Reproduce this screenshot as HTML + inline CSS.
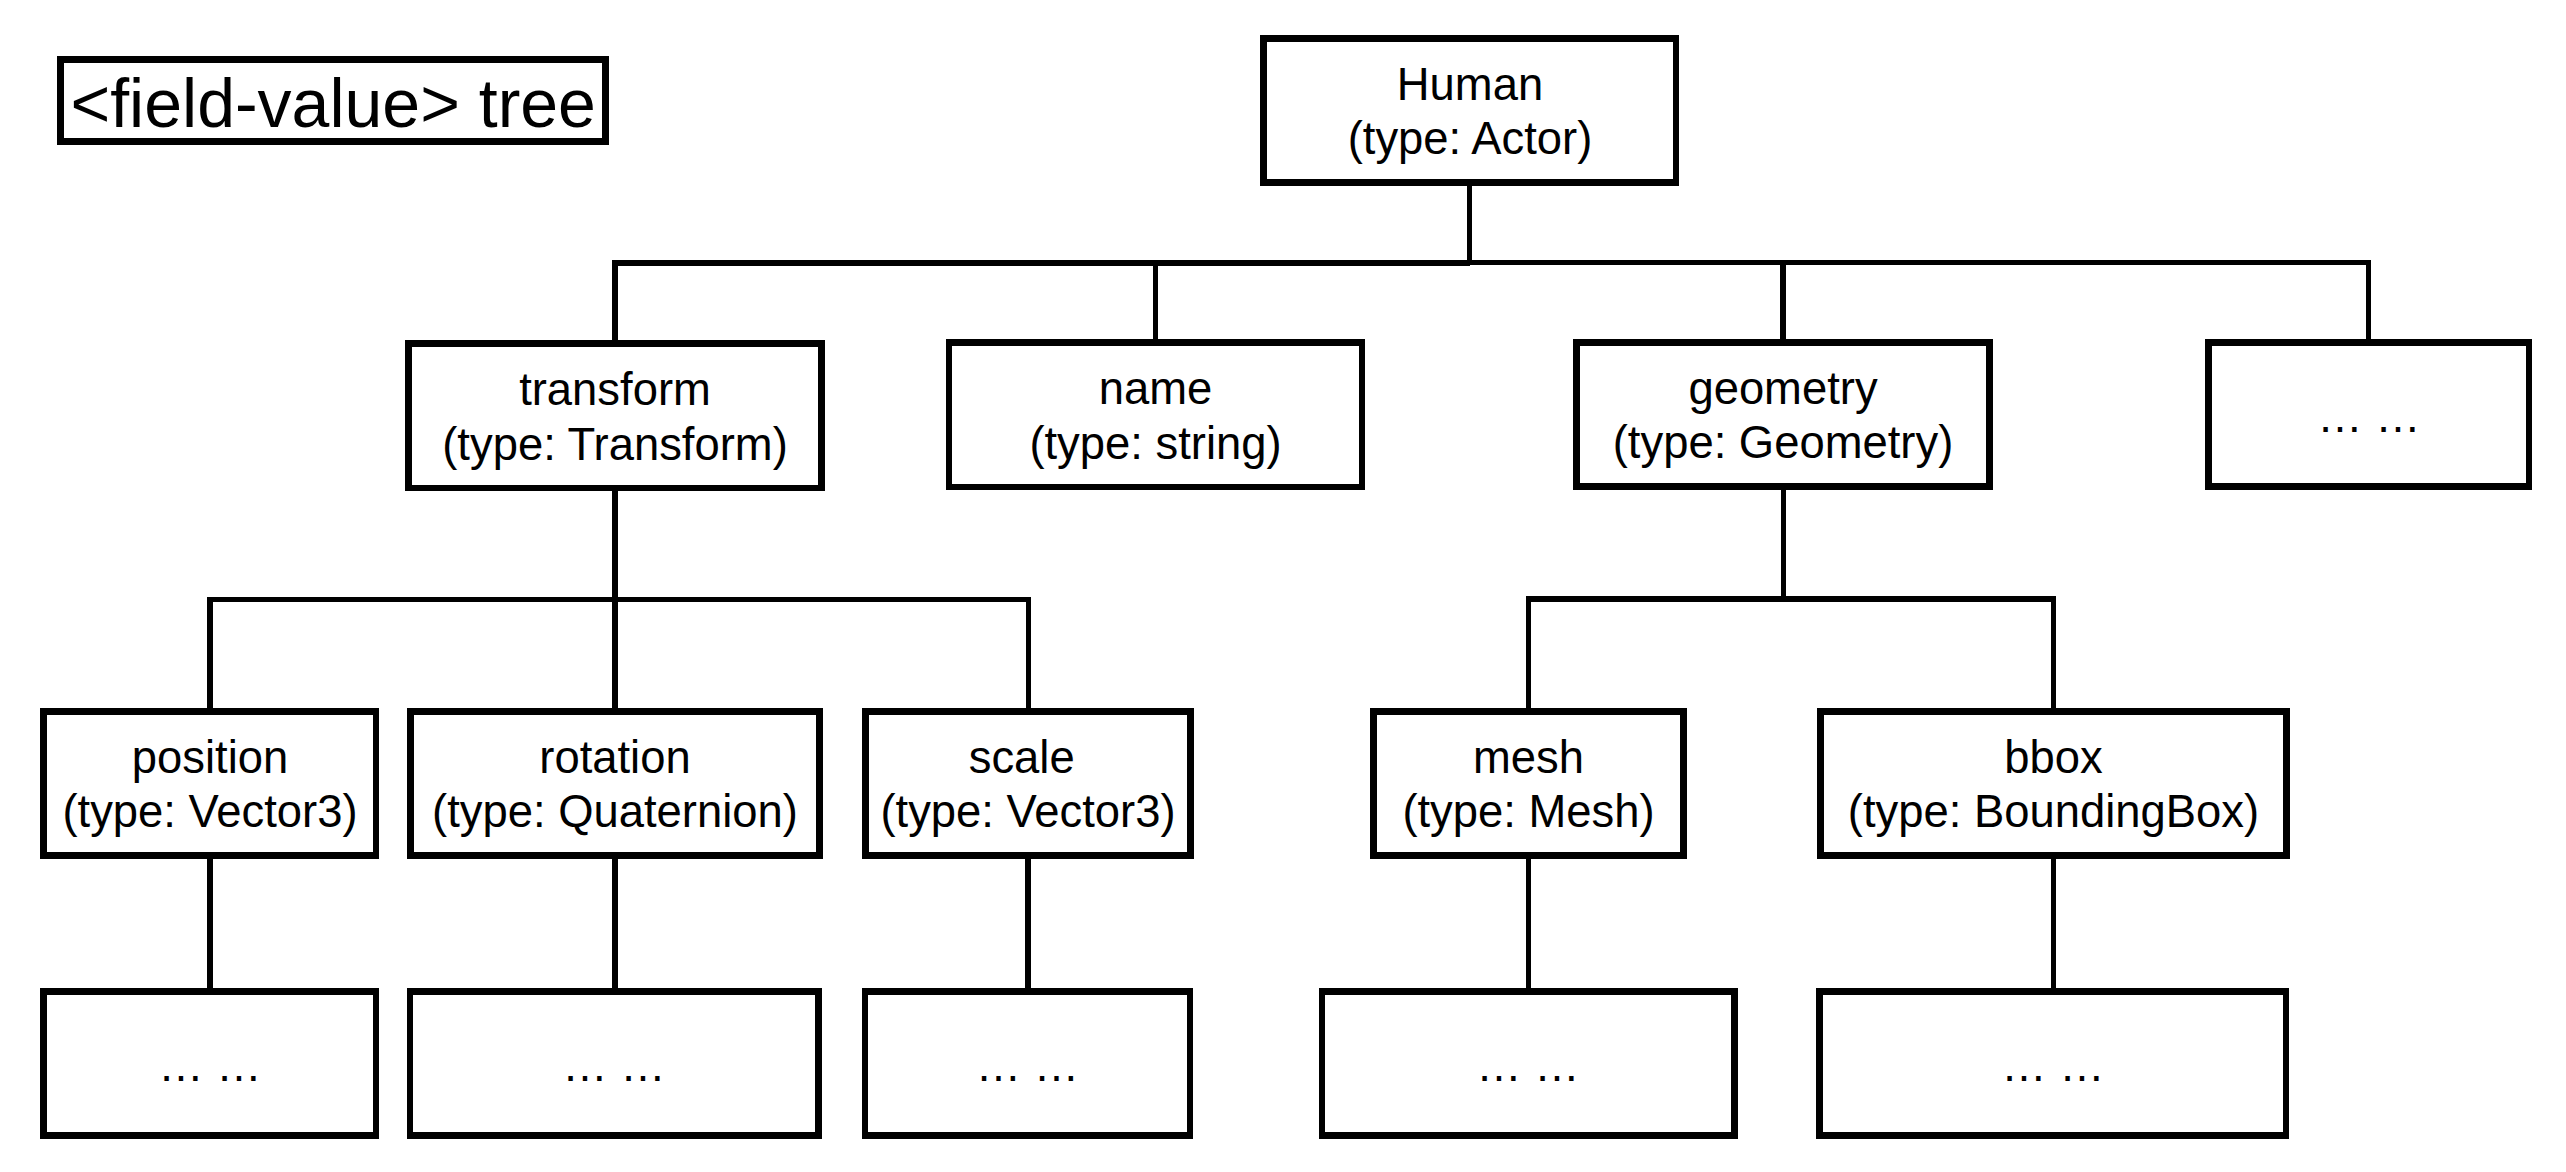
<!DOCTYPE html>
<html><head><meta charset="utf-8"><style>
html,body{margin:0;padding:0;background:#fff;}
body{width:2566px;height:1172px;position:relative;overflow:hidden;font-family:"Liberation Sans",sans-serif;color:#000;}
.b{position:absolute;box-sizing:border-box;border:7px solid #000;background:#fff;display:flex;align-items:center;justify-content:center;text-align:center;font-size:45.40px;line-height:54.50px;white-space:nowrap;}
.b span{position:relative;top:1.50px;}
.b span.d{top:3.00px;}
.l{position:absolute;background:#000;}
.t{position:absolute;box-sizing:border-box;border:7px solid #000;font-size:68px;line-height:75px;white-space:nowrap;}
</style></head><body>

<div class="l" style="left:1467px;top:180px;width:5px;height:82px"></div>
<div class="l" style="left:612px;top:260px;width:858px;height:6px"></div>
<div class="l" style="left:1469px;top:260px;width:902px;height:5px"></div>
<div class="l" style="left:612px;top:262px;width:6px;height:80px"></div>
<div class="l" style="left:1153px;top:262px;width:5px;height:79px"></div>
<div class="l" style="left:1780px;top:262px;width:6px;height:79px"></div>
<div class="l" style="left:2366px;top:262px;width:5px;height:79px"></div>
<div class="l" style="left:612px;top:488px;width:6px;height:112px"></div>
<div class="l" style="left:207px;top:597px;width:824px;height:5px"></div>
<div class="l" style="left:207px;top:599px;width:6px;height:111px"></div>
<div class="l" style="left:612px;top:599px;width:6px;height:111px"></div>
<div class="l" style="left:1026px;top:599px;width:5px;height:111px"></div>
<div class="l" style="left:1781px;top:487px;width:5px;height:112px"></div>
<div class="l" style="left:1526px;top:596px;width:530px;height:6px"></div>
<div class="l" style="left:1526px;top:599px;width:5px;height:111px"></div>
<div class="l" style="left:2051px;top:599px;width:5px;height:111px"></div>
<div class="l" style="left:207px;top:856px;width:6px;height:134px"></div>
<div class="l" style="left:612px;top:856px;width:6px;height:134px"></div>
<div class="l" style="left:1025px;top:856px;width:6px;height:134px"></div>
<div class="l" style="left:1526px;top:856px;width:5px;height:134px"></div>
<div class="l" style="left:2051px;top:856px;width:5px;height:134px"></div>
<div class="b" style="left:1260px;top:35px;width:419px;height:151px;border-width:7px 6px 7px 7px"><span>Human<br>(type: Actor)</span></div>
<div class="b" style="left:405px;top:340px;width:420px;height:151px;border-width:7px 7px 6px 7px"><span>transform<br>(type: Transform)</span></div>
<div class="b" style="left:946px;top:339px;width:419px;height:151px;border-width:7px 6px 6px 6px"><span>name<br>(type: string)</span></div>
<div class="b" style="left:1573px;top:339px;width:420px;height:151px;border-width:7px 7px 7px 7px"><span>geometry<br>(type: Geometry)</span></div>
<div class="b" style="left:2205px;top:339px;width:327px;height:151px;border-width:7px 6px 7px 7px"><span class="d">… …</span></div>
<div class="b" style="left:40px;top:708px;width:339px;height:151px;border-width:7px 6px 7px 7px"><span>position<br>(type: Vector3)</span></div>
<div class="b" style="left:407px;top:708px;width:416px;height:151px;border-width:7px 7px 7px 7px"><span>rotation<br>(type: Quaternion)</span></div>
<div class="b" style="left:862px;top:708px;width:332px;height:151px;border-width:7px 7px 7px 7px"><span>scale&nbsp;<br>(type: Vector3)</span></div>
<div class="b" style="left:1370px;top:708px;width:317px;height:151px;border-width:7px 7px 7px 7px"><span>mesh<br>(type: Mesh)</span></div>
<div class="b" style="left:1817px;top:708px;width:473px;height:151px;border-width:7px 7px 7px 7px"><span>bbox<br>(type: BoundingBox)</span></div>
<div class="b" style="left:40px;top:988px;width:339px;height:151px;border-width:7px 6px 7px 7px"><span class="d">… …</span></div>
<div class="b" style="left:407px;top:988px;width:415px;height:151px;border-width:7px 7px 7px 6px"><span class="d">… …</span></div>
<div class="b" style="left:862px;top:988px;width:331px;height:151px;border-width:7px 6px 7px 6px"><span class="d">… …</span></div>
<div class="b" style="left:1319px;top:988px;width:419px;height:151px;border-width:7px 7px 7px 6px"><span class="d">… …</span></div>
<div class="b" style="left:1816px;top:988px;width:473px;height:151px;border-width:7px 6px 7px 7px"><span class="d">… …</span></div>
<div class="t" style="left:57px;top:56px;width:552px;height:89px;"><span style="position:absolute;left:6.5px;top:2.5px;">&lt;field-value&gt; tree</span></div>
</body></html>
